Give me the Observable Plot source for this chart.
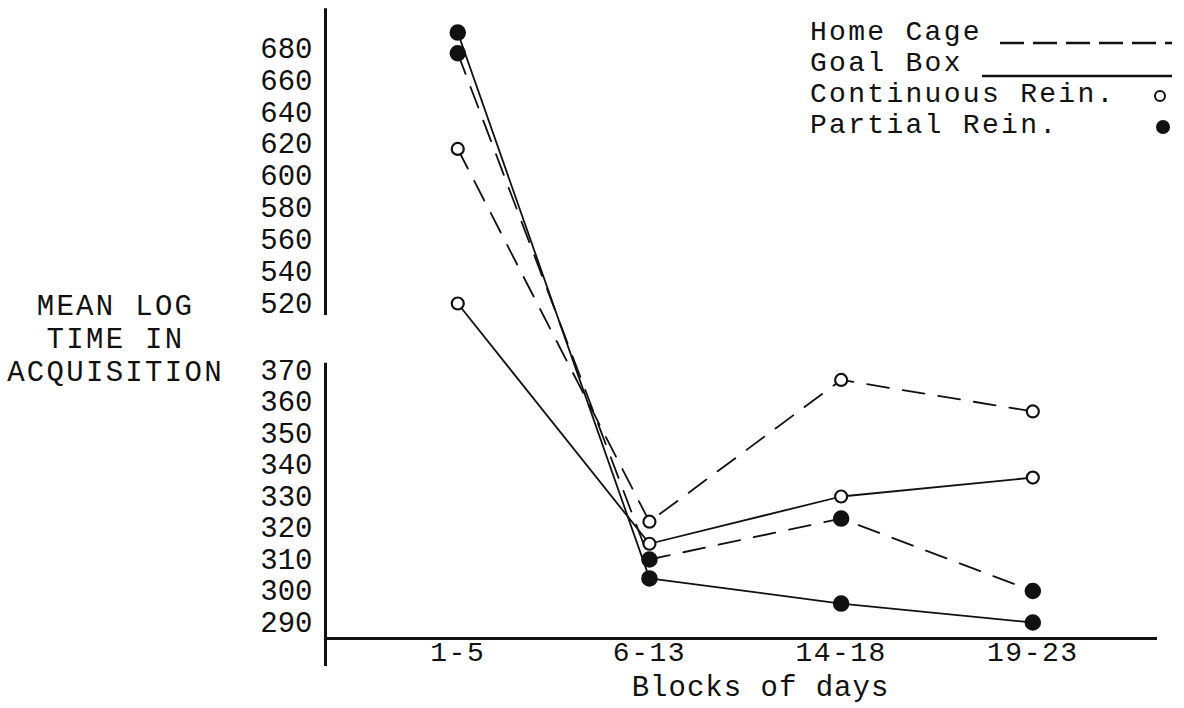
<!DOCTYPE html>
<html>
<head>
<meta charset="utf-8">
<script src="https://cdn.jsdelivr.net/npm/d3@7"></script>
<script src="https://cdn.jsdelivr.net/npm/@observablehq/plot@0.6"></script>
<style>
  html, body { margin: 0; padding: 0; background: #fff; }
  #wrap { position: relative; width: 1184px; height: 708px; overflow: hidden; }
  #legend { position: absolute; left: 0; top: 0; pointer-events: none; }
</style>
</head>
<body>
<div id="wrap"></div>
<script>
// ---- data ----
const blocks = ["1-5", "6-13", "14-18", "19-23"];
const homeCageContinuous = [617, 322, 367, 357];
const homeCagePartial    = [677, 310, 323, 300];
const goalBoxContinuous  = [520, 315, 330, 336];
const goalBoxPartial     = [690, 304, 296, 290];
const lowerTicks = [290, 300, 310, 320, 330, 340, 350, 360, 370];
const upperTicks = [520, 540, 560, 580, 600, 620, 640, 660, 680];
const legendLabels = ["Home Cage", "Goal Box", "Continuous Rein.", "Partial Rein."];
const yTitle = ["MEAN LOG", "TIME IN", "ACQUISITION"];
const xTitle = "Blocks of days";

// ---- table built from the arrays ----
const series = [
  {place: "Home Cage", rein: "Continuous", values: homeCageContinuous},
  {place: "Home Cage", rein: "Partial",    values: homeCagePartial},
  {place: "Goal Box",  rein: "Continuous", values: goalBoxContinuous},
  {place: "Goal Box",  rein: "Partial",    values: goalBoxPartial}
];
const rows = series.flatMap(s => s.values.map((v, i) => ({
  i, block: blocks[i], v, place: s.place, rein: s.rein, key: s.place + "|" + s.rein
})));

const font = "'Liberation Mono', 'Courier New', monospace";
const ink = "#111";
const xDomain = [-0.69, 3.64];
const upperAxisSpan = [493, 705];
const lowerAxisSpan = [276, 386];

const chart = Plot.plot({
  width: 1184,
  height: 708,
  marginLeft: 325,
  marginRight: 29,
  marginTop: 36,
  marginBottom: 70,
  style: {fontFamily: font, fontSize: "29px", color: ink, background: "white"},
  x: {type: "linear", domain: xDomain},
  y: {type: "linear", domain: [290, 370, 520, 680], range: [622, 370, 303, 48]},
  marks: [
    Plot.frame({anchor: "bottom", stroke: ink, strokeWidth: 3}),
    Plot.ruleX([xDomain[0]], {y1: upperAxisSpan[0], y2: upperAxisSpan[1], stroke: ink, strokeWidth: 3}),
    Plot.ruleX([xDomain[0]], {y1: lowerAxisSpan[0], y2: lowerAxisSpan[1], stroke: ink, strokeWidth: 3}),
    Plot.axisY([...lowerTicks, ...upperTicks], {tickSize: 0, tickPadding: 13, label: null, fontSize: 29}),
    Plot.axisX([0, 1, 2, 3], {tickSize: 0, tickPadding: 3, tickFormat: i => blocks[i], label: null, fontSize: 28}),
    Plot.line(rows.filter(d => d.place === "Home Cage"), {x: "i", y: "v", z: "key", stroke: ink, strokeWidth: 1.8, strokeDasharray: "22,14"}),
    Plot.line(rows.filter(d => d.place === "Goal Box"), {x: "i", y: "v", z: "key", stroke: ink, strokeWidth: 1.8}),
    Plot.dot(rows.filter(d => d.rein === "Continuous"), {x: "i", y: "v", r: 6, fill: "white", stroke: ink, strokeWidth: 2.2}),
    Plot.dot(rows.filter(d => d.rein === "Partial"), {x: "i", y: "v", r: 7.5, fill: ink, stroke: ink}),
    Plot.text([yTitle.join("\n")], {text: d => d, frameAnchor: "left", dx: -210, fontSize: 29, lineHeight: 1.14, textAnchor: "middle", fill: ink}),
    Plot.text([xTitle], {text: d => d, frameAnchor: "bottom", dx: 20, dy: 57, fontSize: 29, fill: ink})
  ]
});

const wrap = document.getElementById("wrap");
wrap.appendChild(chart);

// widen the typewriter spacing of the titles and x tick labels
d3.select(chart).selectAll("text").each(function() {
  const t = this.textContent;
  if (t.includes("ACQUISITION")) this.style.letterSpacing = "2.3px";
  if (blocks.includes(t)) this.style.letterSpacing = "1.5px";
  if (t === xTitle) this.style.letterSpacing = "1px";
});

// ---- legend (top right) ----
const lg = d3.select(wrap).append("svg")
  .attr("id", "legend").attr("width", 1184).attr("height", 708)
  .style("font-family", font).style("font-size", "28px").style("letter-spacing", "2.3px");
const baselines = [40, 71, 102, 133];
lg.selectAll("text").data(legendLabels).join("text")
  .attr("x", 810).attr("y", (d, i) => baselines[i]).attr("fill", ink).text(d => d);
lg.append("line").attr("x1", 1000).attr("x2", 1172).attr("y1", 43).attr("y2", 43)
  .attr("stroke", ink).attr("stroke-width", 2.5).attr("stroke-dasharray", "24,9");
lg.append("line").attr("x1", 982).attr("x2", 1172).attr("y1", 76).attr("y2", 76)
  .attr("stroke", ink).attr("stroke-width", 2.5);
lg.append("circle").attr("cx", 1160).attr("cy", 96).attr("r", 5)
  .attr("fill", "white").attr("stroke", ink).attr("stroke-width", 2);
lg.append("circle").attr("cx", 1163).attr("cy", 127).attr("r", 7)
  .attr("fill", ink);
</script>
</body>
</html>
